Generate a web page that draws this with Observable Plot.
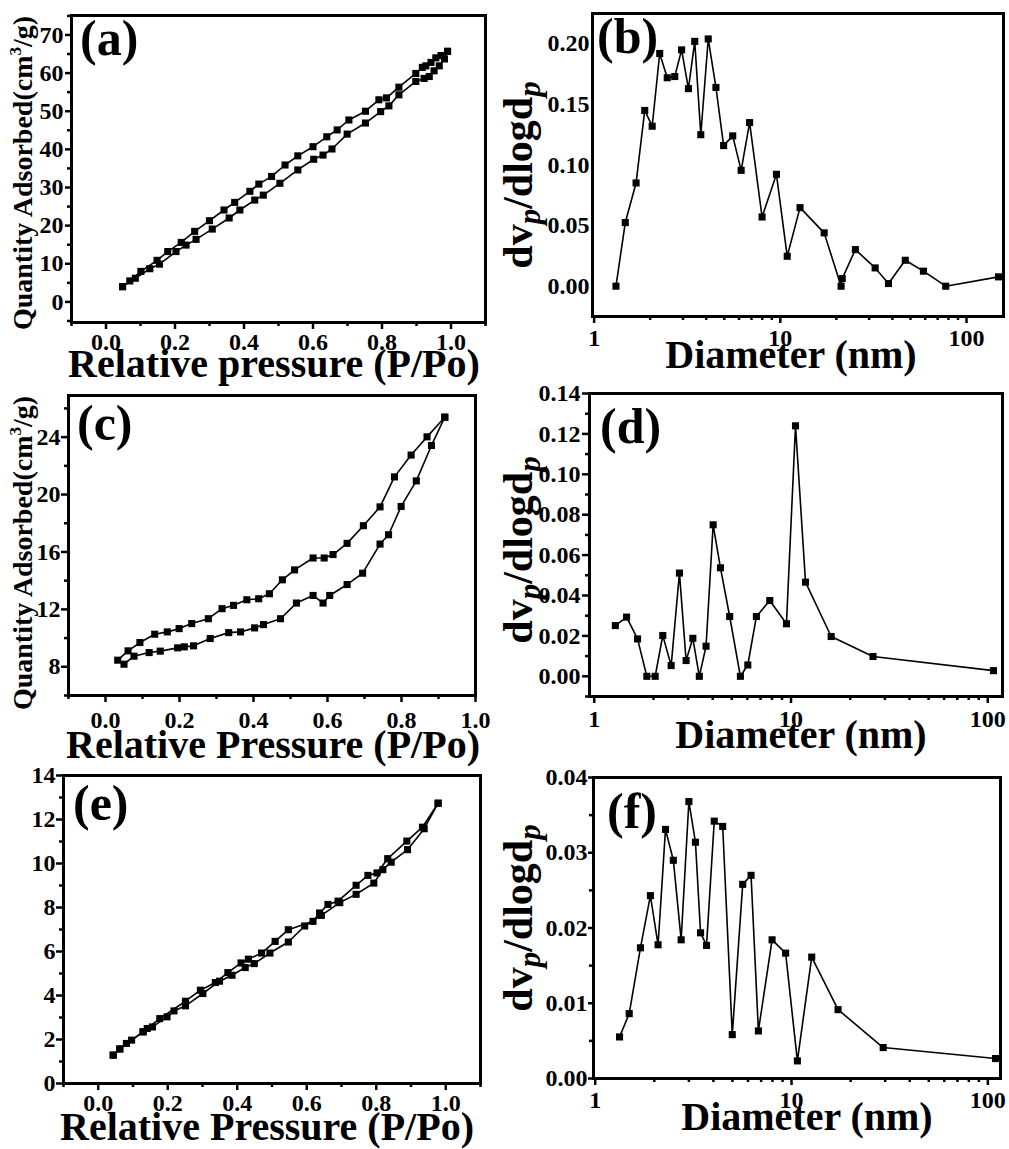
<!DOCTYPE html>
<html><head><meta charset="utf-8">
<script src="https://cdn.jsdelivr.net/npm/d3@7"></script>
<script src="https://cdn.jsdelivr.net/npm/@observablehq/plot@0.6"></script>
<style>
body{margin:0;background:#fff;}
#fig{position:relative;width:1009px;height:1149px;background:#fff;overflow:hidden;}
#fig svg{position:absolute;}
</style></head><body><div id="fig"></div>
<script>
// ---------- DATA ----------
// (a) isotherm
const aAdsP = [0.048,0.085,0.127,0.155,0.203,0.232,0.261,0.308,0.357,0.388,0.431,0.456,0.504,0.556,0.602,0.629,0.655,0.699,0.752,0.796,0.820,0.849,0.898,0.922,0.937,0.951,0.966,0.981,0.990];
const aAdsQ = [4.0,6.2,8.7,9.9,13.2,14.9,16.4,19.1,22.0,24.1,26.7,28.0,31.1,34.6,37.4,38.5,40.1,44.0,46.9,49.9,51.4,54.3,57.8,58.6,59.1,60.6,61.9,63.7,65.7];
const aDesP = [0.990,0.971,0.956,0.942,0.927,0.917,0.898,0.849,0.813,0.791,0.752,0.704,0.670,0.640,0.600,0.556,0.519,0.480,0.443,0.417,0.373,0.342,0.300,0.257,0.218,0.179,0.148,0.101,0.069,0.048];
const aDesQ = [65.7,64.6,64.0,62.8,61.9,61.5,59.9,56.3,53.5,53.0,50.0,47.7,45.1,43.3,40.7,38.3,35.9,32.9,30.9,29.0,26.1,24.1,21.3,18.5,15.6,13.2,10.9,8.0,5.5,4.0];
// (b) pore size distribution
const bD = [1.31,1.47,1.68,1.87,2.05,2.25,2.47,2.71,2.95,3.21,3.47,3.74,4.10,4.51,4.96,5.55,6.16,6.84,7.98,9.53,10.89,12.76,17.2,21.2,21.5,25.3,32.3,38.1,46.9,58.7,77.3,148.5];
const bV = [0.000,0.0525,0.0852,0.145,0.132,0.192,0.172,0.173,0.195,0.163,0.202,0.125,0.204,0.164,0.116,0.124,0.0956,0.135,0.0571,0.0923,0.0247,0.0648,0.0440,0.000,0.0063,0.0302,0.0151,0.0022,0.0214,0.0124,0.000,0.0077];
// (c) isotherm
const cAdsP = [0.050,0.077,0.118,0.148,0.195,0.213,0.238,0.283,0.333,0.365,0.403,0.427,0.473,0.516,0.561,0.588,0.606,0.653,0.695,0.742,0.765,0.799,0.840,0.881,0.917];
const cAdsQ = [8.18,8.74,8.99,9.09,9.32,9.39,9.46,9.97,10.38,10.43,10.71,10.94,11.35,12.44,12.97,12.44,12.97,13.73,14.52,16.55,17.20,19.17,20.95,23.42,25.39];
const cDesP = [0.917,0.869,0.826,0.781,0.742,0.697,0.653,0.615,0.591,0.561,0.511,0.478,0.443,0.414,0.382,0.346,0.315,0.278,0.233,0.199,0.167,0.133,0.093,0.061,0.033];
const cDesQ = [25.39,24.02,22.75,21.23,19.14,17.83,16.60,15.82,15.58,15.58,14.75,14.06,13.09,12.74,12.67,12.28,12.05,11.35,11.01,10.66,10.43,10.27,9.69,9.11,8.46];
// (d) pore size distribution
const dD = [1.28,1.46,1.66,1.85,2.04,2.23,2.46,2.71,2.93,3.17,3.42,3.70,4.02,4.38,4.88,5.53,6.03,6.67,7.80,9.48,10.54,11.85,16.0,26.1,106.9];
const dV = [0.0251,0.0293,0.0185,0,0,0.0202,0.0053,0.0511,0.0078,0.0188,0,0.0149,0.0750,0.0537,0.0296,0,0.0056,0.0296,0.0375,0.0260,0.124,0.0466,0.0197,0.0098,0.0028];
// (e) isotherm
const eAdsP = [0.043,0.062,0.081,0.096,0.129,0.156,0.198,0.218,0.251,0.301,0.349,0.385,0.423,0.449,0.494,0.547,0.594,0.642,0.695,0.742,0.793,0.819,0.843,0.890,0.938,0.978];
const eAdsQ = [1.29,1.57,1.82,1.97,2.35,2.57,3.03,3.30,3.53,4.09,4.65,4.92,5.27,5.45,5.93,6.43,7.16,7.64,8.22,8.60,9.11,9.72,10.06,10.63,11.58,12.74];
const eDesP = [0.978,0.933,0.888,0.833,0.802,0.776,0.742,0.690,0.661,0.637,0.618,0.547,0.509,0.470,0.432,0.411,0.373,0.337,0.294,0.251,0.177,0.141,0.129,0.062,0.043];
const eDesQ = [12.74,11.65,11.02,10.22,9.57,9.46,9.01,8.29,8.14,7.75,7.37,6.99,6.46,5.93,5.65,5.48,5.04,4.59,4.24,3.74,2.95,2.50,2.35,1.57,1.29];
// (f) pore size distribution
const fD = [1.33,1.49,1.70,1.91,2.09,2.28,2.50,2.74,3.00,3.24,3.44,3.69,4.04,4.46,4.99,5.64,6.22,6.78,7.96,9.33,10.71,12.67,17.26,29.3,109.4];
const fV = [0.00552,0.00862,0.01737,0.0243,0.01777,0.0331,0.0290,0.01843,0.0368,0.0314,0.01936,0.01768,0.0342,0.0335,0.00583,0.0258,0.0270,0.00632,0.01843,0.01666,0.00234,0.01613,0.00915,0.00411,0.00265];

// tick values
const pMajor = [0, 0.2, 0.4, 0.6, 0.8, 1.0];
const pMinorWide = [-0.1, 0.1, 0.3, 0.5, 0.7, 0.9, 1.1];
const pMinorC = [-0.1, 0.1, 0.3, 0.5, 0.7, 0.9];
const logMajor = [1, 10, 100];
const logMinor = [2,3,4,5,6,7,8,9,20,30,40,50,60,70,80,90];
const aYMajor = [0,10,20,30,40,50,60,70];
const aYMinor = [-5,5,15,25,35,45,55,65,75];
const bYMajor = [0,0.05,0.10,0.15,0.20];
const cYMajor = [8,12,16,20,24];
const cYMinor = [6,10,14,18,22,26];
const dYMajor = [0,0.02,0.04,0.06,0.08,0.10,0.12,0.14];
const dYMinor = [-0.01,0.01,0.03,0.05,0.07,0.09,0.11,0.13];
const eYMajor = [0,2,4,6,8,10,12,14];
const eYMinor = [1,3,5,7,9,11,13];
const fYMajor = [0,0.01,0.02,0.03,0.04];
const fYMinor = [0.005,0.015,0.025,0.035];

// ---------- DRAW ----------
const FONT = '"Liberation Serif","Times New Roman",serif';
const fig = document.getElementById("fig");
const zip = (X, Y) => X.map((x, i) => ({x, y: Y[i]}));

function panel(o) {
  const [x0, x1, y0, y1] = o.box;
  const mL = 95, mR = 12, mT = 12, mB = 40;
  const W = x1 - x0 + mL + mR, H = y1 - y0 + mT + mB;
  const marks = [
    Plot.axisX({ticks: o.xMinor, tickSize: 4, tickFormat: () => "", strokeWidth: 2.5, label: null}),
    Plot.axisX({ticks: o.xMajor, tickSize: 7, tickPadding: o.xPad, tickFormat: o.xFmt, strokeWidth: 2.5, label: null}),
    Plot.axisY({ticks: o.yMajor, tickSize: o.yTick, tickPadding: o.yPad, tickFormat: o.yFmt, strokeWidth: 2.5, label: null})
  ];
  if (o.yMinor) marks.push(Plot.axisY({ticks: o.yMinor, tickSize: 4, tickFormat: () => "", strokeWidth: 2.5, label: null}));
  for (const s of o.series) {
    marks.push(Plot.line(s, {x: "x", y: "y", stroke: "black", strokeWidth: 1.6}));
    marks.push(Plot.dot(s, {x: "x", y: "y", symbol: "square", r: 4, fill: "black", stroke: "none"}));
  }
  marks.push(Plot.frame({stroke: "black", strokeWidth: 3}));
  const svg = Plot.plot({
    width: W, height: H,
    marginLeft: mL, marginRight: mR, marginTop: mT, marginBottom: mB,
    x: {type: o.xType, domain: o.xDomain, label: null},
    y: {domain: o.yDomain, label: null},
    style: {background: "transparent", fontFamily: FONT, fontSize: "24px", fontWeight: "bold", color: "black", overflow: "visible"},
    marks
  });
  svg.style.left = (x0 - mL) + "px";
  svg.style.top = (y0 - mT) + "px";
  fig.appendChild(svg);
}

const f1 = d => d.toFixed(1), f2 = d => d.toFixed(2), f0 = d => String(d);

panel({box: [71, 485, 15, 322], xType: "linear", xDomain: [-0.1, 1.1], yDomain: [-5.4, 75.1],
  xMajor: pMajor, xMinor: pMinorWide, xFmt: f1, xPad: 3,
  yMajor: aYMajor, yMinor: aYMinor, yFmt: f0, yTick: 6, yPad: 2,
  series: [zip(aAdsP, aAdsQ), zip(aDesP, aDesQ)]});
panel({box: [592, 1003, 13, 316], xType: "log", xDomain: [0.98, 158], yDomain: [-0.025, 0.225],
  xMajor: logMajor, xMinor: logMinor, xFmt: f0, xPad: 5,
  yMajor: bYMajor, yMinor: null, yFmt: f2, yTick: 0, yPad: 3,
  series: [zip(bD, bV)]});
panel({box: [68, 475, 395, 695], xType: "linear", xDomain: [-0.1, 1.0], yDomain: [6, 26.9],
  xMajor: pMajor, xMinor: pMinorC, xFmt: f1, xPad: 8,
  yMajor: cYMajor, yMinor: cYMinor, yFmt: f0, yTick: 7, yPad: 1,
  series: [zip(cAdsP, cAdsQ), zip(cDesP, cDesQ)]});
panel({box: [589, 1002, 393, 696], xType: "log", xDomain: [0.946, 118.8], yDomain: [-0.01, 0.14],
  xMajor: logMajor, xMinor: logMinor, xFmt: f0, xPad: 6,
  yMajor: dYMajor, yMinor: dYMinor, yFmt: f2, yTick: 7, yPad: 2,
  series: [zip(dD, dV)]});
panel({box: [63, 480, 775, 1083], xType: "linear", xDomain: [-0.1, 1.1], yDomain: [0, 14],
  xMajor: pMajor, xMinor: pMinorWide, xFmt: f1, xPad: 3,
  yMajor: eYMajor, yMinor: eYMinor, yFmt: f0, yTick: 7, yPad: 1,
  series: [zip(eAdsP, eAdsQ), zip(eDesP, eDesQ)]});
panel({box: [593, 1000, 777, 1078], xType: "log", xDomain: [0.98, 116], yDomain: [0, 0.04],
  xMajor: logMajor, xMinor: logMinor, xFmt: f0, xPad: 5,
  yMajor: fYMajor, yMinor: fYMinor, yFmt: f2, yTick: 5, yPad: 1,
  series: [zip(fD, fV)]});

// ---------- LABELS ----------
const ov = d3.select(fig).append("svg")
  .attr("width", 1009).attr("height", 1149)
  .style("left", "0px").style("top", "0px")
  .attr("font-family", FONT).attr("font-weight", "bold").attr("fill", "black");

function quantityLabel(x, y) {
  const t = ov.append("text").attr("transform", `translate(${x},${y}) rotate(-90)`)
    .attr("text-anchor", "middle").attr("font-size", 28);
  t.append("tspan").text("Quantity Adsorbed(cm");
  t.append("tspan").attr("font-size", 17).attr("dy", -11).text("3");
  t.append("tspan").attr("dy", 11).text("/g)");
}
function dvLabel(x, y) {
  const t = ov.append("text").attr("transform", `translate(${x},${y}) rotate(-90)`)
    .attr("text-anchor", "middle").attr("font-size", 42);
  t.append("tspan").text("dv");
  t.append("tspan").attr("font-style", "italic").attr("font-size", 31).attr("dy", 8).text("p");
  t.append("tspan").attr("dy", -8).text("/dlogd");
  t.append("tspan").attr("font-style", "italic").attr("font-size", 31).attr("dy", 8).text("p");
}
function xLabel(text, x, y) {
  ov.append("text").attr("x", x).attr("y", y).attr("text-anchor", "middle").attr("font-size", 40).text(text);
}
function tag(text, x, y) {
  ov.append("text").attr("x", x).attr("y", y).attr("font-size", 50).text(text);
}

quantityLabel(32, 173);
quantityLabel(32, 553);
dvLabel(532, 175);
dvLabel(532, 550);
dvLabel(532, 918);
xLabel("Relative pressure (P/Po)", 274, 377);
xLabel("Relative Pressure (P/Po)", 273, 758);
xLabel("Relative Pressure (P/Po)", 267, 1140);
xLabel("Diameter (nm)", 791, 368);
xLabel("Diameter (nm)", 801, 748);
xLabel("Diameter (nm)", 807, 1130);
tag("(a)", 80, 55);
tag("(b)", 597, 53);
tag("(c)", 77, 440);
tag("(d)", 600, 443);
tag("(e)", 73, 820);
tag("(f)", 607, 828);
</script></body></html>
